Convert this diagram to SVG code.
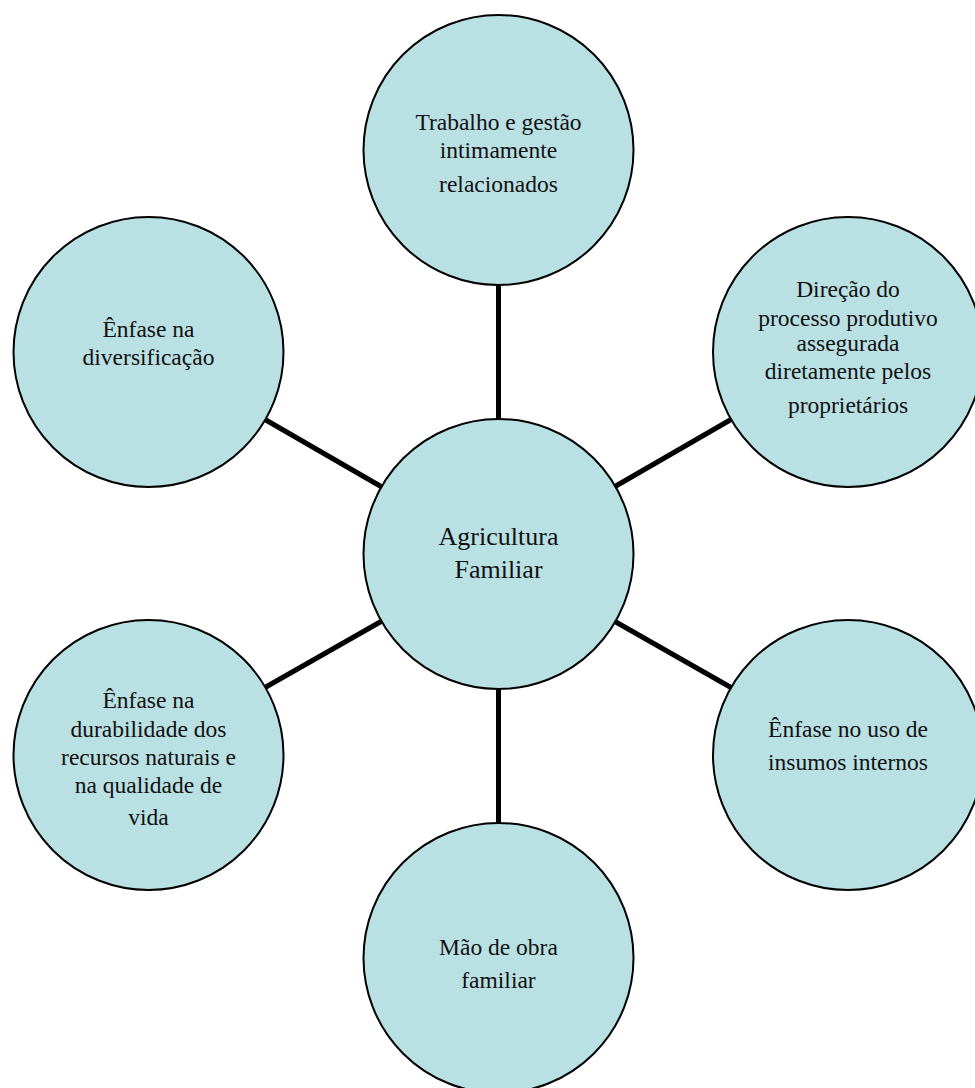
<svg xmlns="http://www.w3.org/2000/svg" width="975" height="1088" viewBox="0 0 975 1088">
<style>
.node{fill:#B9E0E3;stroke:#000;stroke-width:2}
.lbl{font-family:"Liberation Serif","Times New Roman",serif;font-size:23.5px;fill:#111;text-anchor:middle}
.big{font-size:26px}
.conn{stroke:#000;stroke-width:5;fill:none}
</style>
<rect width="975" height="1088" fill="#fff"/>
<g id="connectors">
<line class="conn" x1="498.5" y1="285" x2="498.5" y2="420"/>
<line class="conn" x1="498.5" y1="688" x2="498.5" y2="823"/>
<line class="conn" x1="265" y1="419.5" x2="381" y2="486.5"/>
<line class="conn" x1="731" y1="419.5" x2="615" y2="486.5"/>
<line class="conn" x1="265" y1="687.5" x2="381" y2="621.5"/>
<line class="conn" x1="731" y1="687.5" x2="615" y2="621.5"/>
</g>
<g id="node-center">
<circle class="node" cx="498.5" cy="554" r="135"/>
<text class="lbl big" x="498.5" y="545">Agricultura</text>
<text class="lbl big" x="498.5" y="578">Familiar</text>
</g>
<g id="node-top">
<circle class="node" cx="498.5" cy="150" r="135"/>
<text class="lbl" x="498.5" y="130">Trabalho e gestão</text>
<text class="lbl" x="498.5" y="158">intimamente</text>
<text class="lbl" x="498.5" y="192">relacionados</text>
</g>
<g id="node-upper-right">
<circle class="node" cx="848" cy="352" r="135"/>
<text class="lbl" x="848" y="297">Direção do</text>
<text class="lbl" x="848" y="326">processo produtivo</text>
<text class="lbl" x="848" y="351">assegurada</text>
<text class="lbl" x="848" y="379">diretamente pelos</text>
<text class="lbl" x="848" y="413">proprietários</text>
</g>
<g id="node-lower-right">
<circle class="node" cx="848" cy="755" r="135"/>
<text class="lbl" x="848" y="737">Ênfase no uso de</text>
<text class="lbl" x="848" y="770">insumos internos</text>
</g>
<g id="node-bottom">
<circle class="node" cx="498.5" cy="958" r="135"/>
<text class="lbl" x="498.5" y="955">Mão de obra</text>
<text class="lbl" x="498.5" y="988">familiar</text>
</g>
<g id="node-lower-left">
<circle class="node" cx="148.5" cy="755" r="135"/>
<text class="lbl" x="148.5" y="708">Ênfase na</text>
<text class="lbl" x="148.5" y="737">durabilidade dos</text>
<text class="lbl" x="148.5" y="765">recursos naturais e</text>
<text class="lbl" x="148.5" y="793">na qualidade de</text>
<text class="lbl" x="148.5" y="825">vida</text>
</g>
<g id="node-upper-left">
<circle class="node" cx="148.5" cy="352" r="135"/>
<text class="lbl" x="148.5" y="337">Ênfase na</text>
<text class="lbl" x="148.5" y="365">diversificação</text>
</g>
</svg>
